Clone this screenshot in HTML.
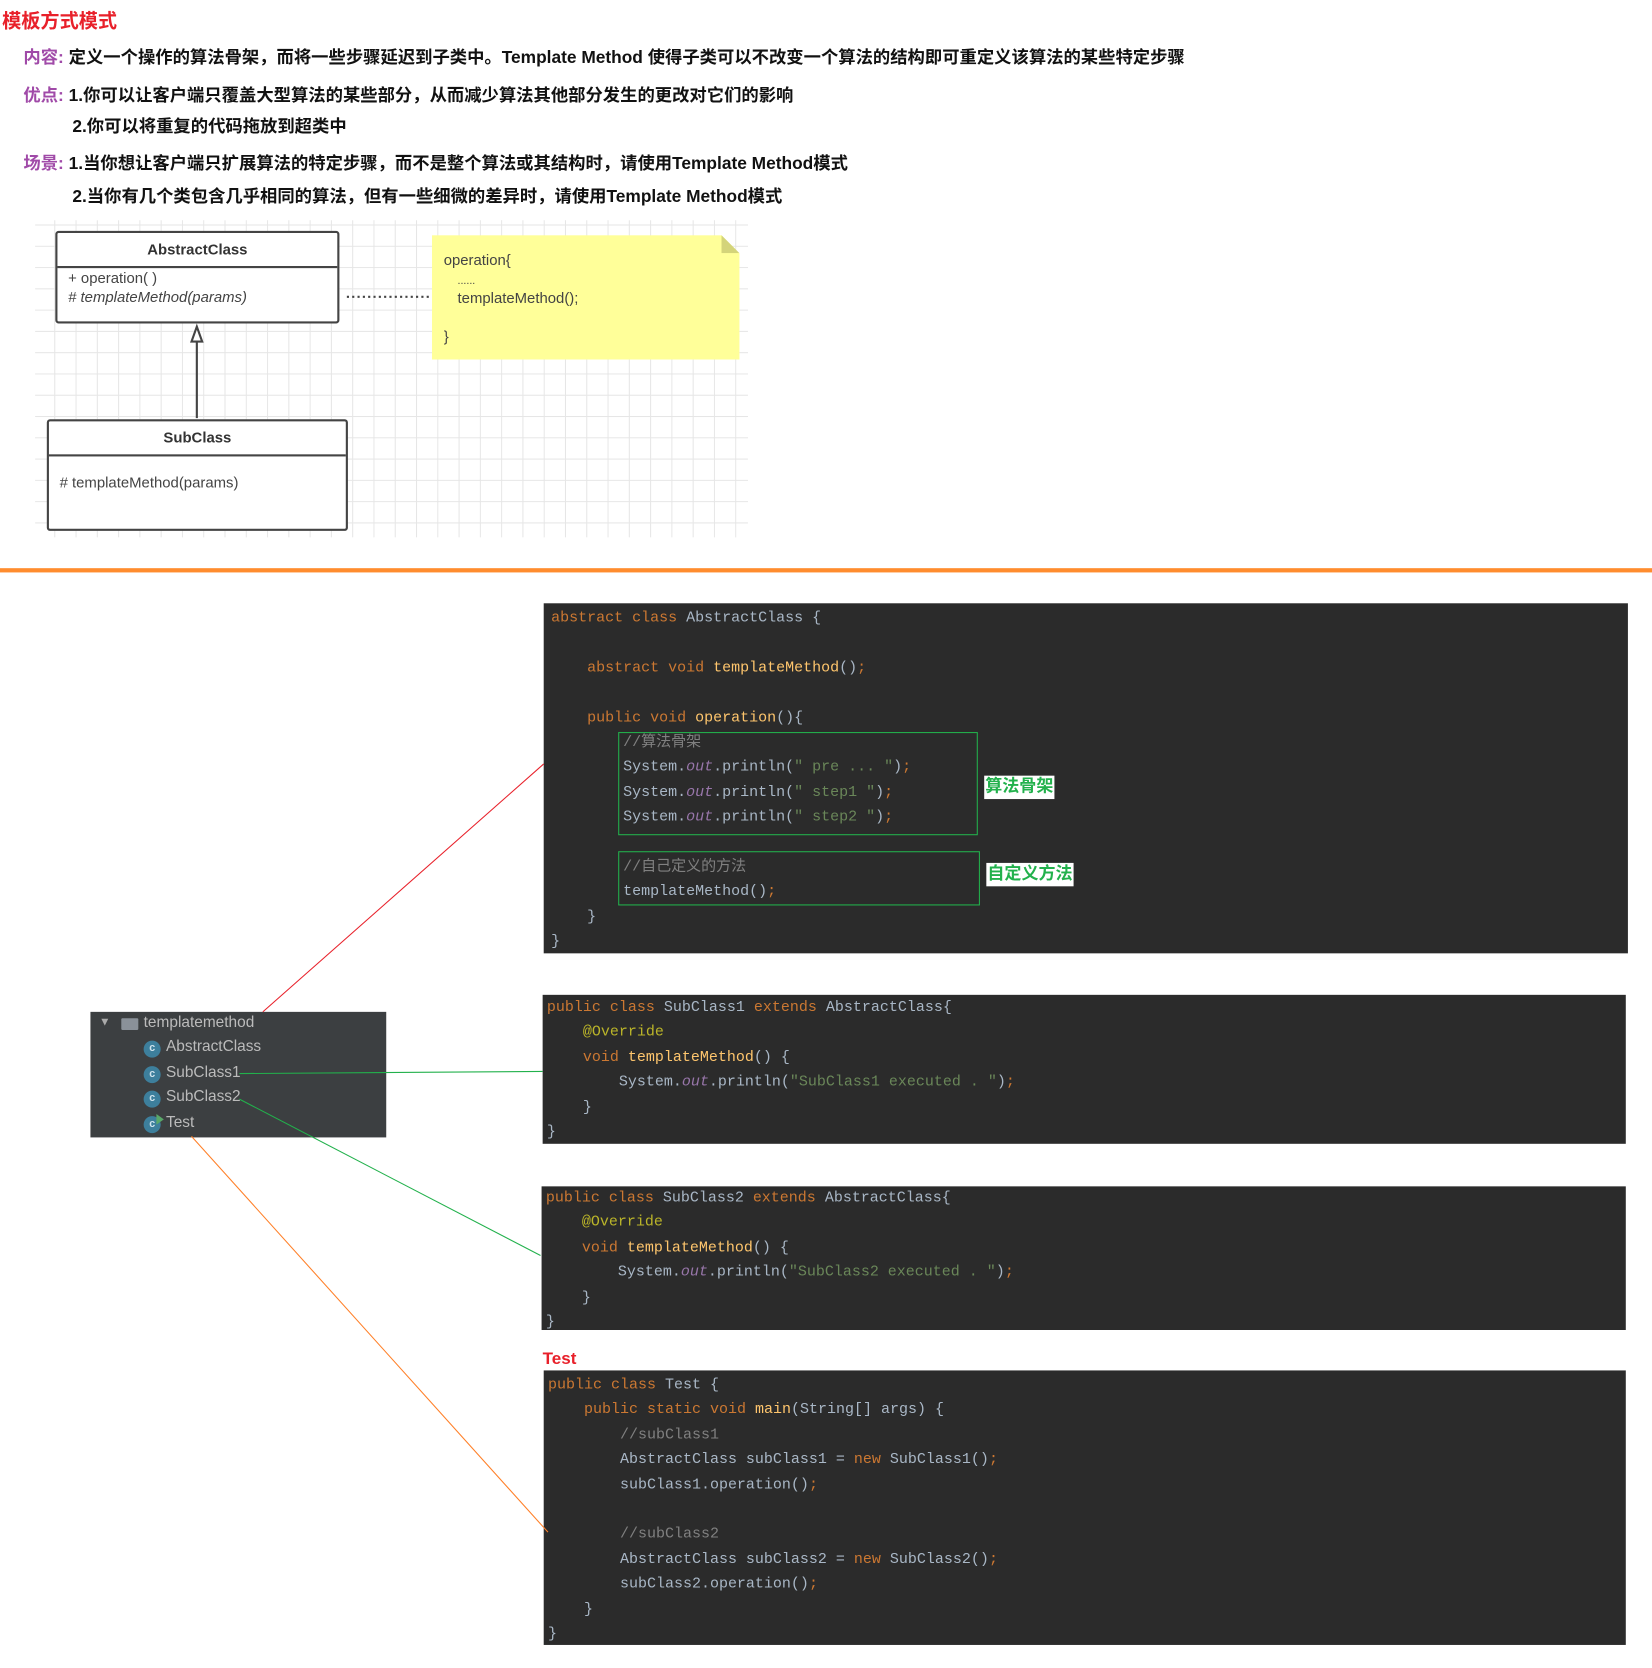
<!DOCTYPE html>
<html><head><meta charset="utf-8"><style>
html,body{margin:0;padding:0;background:#fff;width:1652px;height:1668px;overflow:hidden}
#w{position:absolute;left:0;top:0;width:1553px;height:1568px;transform:scale(1.064);transform-origin:0 0;font-family:"Liberation Sans","Noto Sans CJK SC",sans-serif}
.a{position:absolute;white-space:nowrap}
.h{font-weight:bold;font-size:16.3px;color:#111}
.lb{color:#a04aa8}
.code{position:absolute;background:#2b2b2b;margin:0;font-family:"Liberation Mono","Noto Sans CJK SC",monospace;font-size:14.1px;line-height:23.4px;color:#a9b7c6;white-space:pre;box-sizing:border-box}
.k{color:#cc7832}.m{color:#ffc66d}.s{color:#6a8759}.o{color:#9876aa;font-style:italic}.c{color:#808080}.an{color:#bbb529}
.gb{position:absolute;border:1px solid #22b14c}
.gl{position:absolute;background:#fff;color:#22b14c;font-weight:bold;font-size:16px;line-height:22px;padding:0 1px}
.uml{position:absolute;background:#fff;border:2px solid #444;border-radius:3px;box-sizing:border-box;font-size:14px;color:#333}
.ic{position:absolute;width:16px;height:16px;border-radius:50%;background:#3d7f9c;color:#cfe3ec;font-size:10px;font-weight:bold;text-align:center;line-height:16px}
</style></head><body><div id="w">
<div class="a" style="left:2px;top:6px;font-size:18px;font-weight:bold;color:#e8202a">模板方式模式</div>
<div class="a h" style="left:22px;top:40px"><span class="lb">内容:</span> 定义一个操作的算法骨架，而将一些步骤延迟到子类中。Template Method 使得子类可以不改变一个算法的结构即可重定义该算法的某些特定步骤</div>
<div class="a h" style="left:22px;top:76px"><span class="lb">优点:</span> 1.你可以让客户端只覆盖大型算法的某些部分，从而减少算法其他部分发生的更改对它们的影响</div>
<div class="a h" style="left:68px;top:105px">2.你可以将重复的代码拖放到超类中</div>
<div class="a h" style="left:22px;top:140px"><span class="lb">场景:</span> 1.当你想让客户端只扩展算法的特定步骤，而不是整个算法或其结构时，请使用Template Method模式</div>
<div class="a h" style="left:68px;top:171px">2.当你有几个类包含几乎相同的算法，但有一些细微的差异时，请使用Template Method模式</div>

<div class="a" style="left:33px;top:207px;width:670px;height:298px;background-color:#fff;background-image:linear-gradient(#e6e6e6 1px,transparent 1px),linear-gradient(90deg,#e6e6e6 1px,transparent 1px);background-size:20px 20px;background-position:-2px 4px"></div>
<div class="uml" style="left:52px;top:217px;width:267px;height:87px">
 <div style="height:31px;border-bottom:2px solid #444;text-align:center;font-weight:bold;line-height:31px">AbstractClass</div>
 <div style="padding-left:10px;line-height:18px;color:#444">+ operation( )<br><i># templateMethod(params)</i></div>
</div>
<div class="uml" style="left:44px;top:394px;width:283px;height:105px">
 <div style="height:31px;border-bottom:2px solid #444;text-align:center;font-weight:bold;line-height:31px">SubClass</div>
 <div style="padding:16px 0 0 10px;color:#444"># templateMethod(params)</div>
</div>
<div class="a" style="left:406px;top:221px;width:289px;height:117px;background:#ffff99;clip-path:polygon(0 0,272px 0,289px 17px,289px 117px,0 117px)"></div>
<div class="a" style="left:678px;top:221px;width:17px;height:17px;background:#d4d47a;clip-path:polygon(0 0,100% 100%,0 100%)"></div>
<div class="a" style="left:417px;top:235px;font-size:14px;color:#444;line-height:18px">operation{<br><span style="padding-left:13px;font-size:10px;line-height:8px">......</span><br><span style="padding-left:13px">templateMethod();</span><br><br>}</div>
<svg class="a" style="left:0;top:0" width="1553" height="1568">
 <line x1="326" y1="279" x2="405" y2="279" stroke="#444" stroke-width="2" stroke-dasharray="2,3"/>
 <line x1="185" y1="393" x2="185" y2="320" stroke="#444" stroke-width="2"/>
 <polygon points="185,307 180,321 190,321" fill="#fff" stroke="#444" stroke-width="2"/>
 <rect x="0" y="534" width="1553" height="4" fill="#ff8c2e"/>
</svg>

<pre class="code" style="left:511px;top:567px;width:1019px;height:329px;padding:3px 0 0 7px"><span class="k">abstract class </span>AbstractClass {

    <span class="k">abstract void </span><span class="m">templateMethod</span>()<span class="k">;</span>

    <span class="k">public void </span><span class="m">operation</span>(){
        <span class="c">//算法骨架</span>
        System.<span class="o">out</span>.println(<span class="s">" pre ... "</span>)<span class="k">;</span>
        System.<span class="o">out</span>.println(<span class="s">" step1 "</span>)<span class="k">;</span>
        System.<span class="o">out</span>.println(<span class="s">" step2 "</span>)<span class="k">;</span>

        <span class="c">//自己定义的方法</span>
        templateMethod()<span class="k">;</span>
    }
}</pre>
<div class="gb" style="left:581px;top:688px;width:336px;height:95px"></div>
<div class="gb" style="left:581px;top:800px;width:338px;height:49px"></div>
<div class="gl" style="left:925px;top:729px">算法骨架</div>
<div class="gl" style="left:927px;top:811px">自定义方法</div>

<pre class="code" style="left:510px;top:935px;width:1018px;height:140px;padding:1px 0 0 4px"><span class="k">public class </span>SubClass1 <span class="k">extends </span>AbstractClass{
    <span class="an">@Override</span>
    <span class="k">void </span><span class="m">templateMethod</span>() {
        System.<span class="o">out</span>.println(<span class="s">"SubClass1 executed . "</span>)<span class="k">;</span>
    }
}</pre>
<pre class="code" style="left:509px;top:1115px;width:1019px;height:135px;padding:0 0 0 4px"><span class="k">public class </span>SubClass2 <span class="k">extends </span>AbstractClass{
    <span class="an">@Override</span>
    <span class="k">void </span><span class="m">templateMethod</span>() {
        System.<span class="o">out</span>.println(<span class="s">"SubClass2 executed . "</span>)<span class="k">;</span>
    }
}</pre>
<div class="a" style="left:510px;top:1269px;font-size:16px;font-weight:bold;color:#e8202a">Test</div>
<pre class="code" style="left:511px;top:1288px;width:1017px;height:258px;padding:3px 0 0 4px"><span class="k">public class </span>Test {
    <span class="k">public static void </span><span class="m">main</span>(String[] args) {
        <span class="c">//subClass1</span>
        AbstractClass subClass1 = <span class="k">new </span>SubClass1()<span class="k">;</span>
        subClass1.operation()<span class="k">;</span>

        <span class="c">//subClass2</span>
        AbstractClass subClass2 = <span class="k">new </span>SubClass2()<span class="k">;</span>
        subClass2.operation()<span class="k">;</span>
    }
}</pre>

<div class="a" style="left:85px;top:951px;width:278px;height:118px;background:#3c3f41;font-size:14.5px;color:#bbbbbb">
 <div class="a" style="left:8px;top:4px;font-size:11px;color:#aaa">▼</div>
 <div class="a" style="left:29px;top:6px;width:16px;height:11px;background:#8a9199;border-radius:1px"></div>
 <div class="a" style="left:50px;top:2px">templatemethod</div>
 <div class="ic" style="left:50px;top:27px">c</div>
 <div class="a" style="left:71px;top:25px">AbstractClass</div>
 <div class="ic" style="left:50px;top:51px">c</div>
 <div class="a" style="left:71px;top:49px">SubClass1</div>
 <div class="ic" style="left:50px;top:74px">c</div>
 <div class="a" style="left:71px;top:72px">SubClass2</div>
 <div class="ic" style="left:50px;top:98px">c</div>
 <div class="a" style="left:62px;top:96px;width:0;height:0;border-left:7px solid #59a869;border-top:5px solid transparent;border-bottom:5px solid transparent"></div>
 <div class="a" style="left:71px;top:96px">Test</div>
</div>
<svg class="a" style="left:0;top:0" width="1553" height="1568">
 <line x1="247" y1="951" x2="511" y2="718" stroke="#e8202a" stroke-width="1"/>
 <line x1="225" y1="1009" x2="510" y2="1007" stroke="#22b14c" stroke-width="1"/>
 <line x1="225" y1="1033" x2="508" y2="1180" stroke="#22b14c" stroke-width="1"/>
 <line x1="180" y1="1068" x2="515" y2="1440" stroke="#ff7f27" stroke-width="1"/>
</svg>
</div></body></html>
